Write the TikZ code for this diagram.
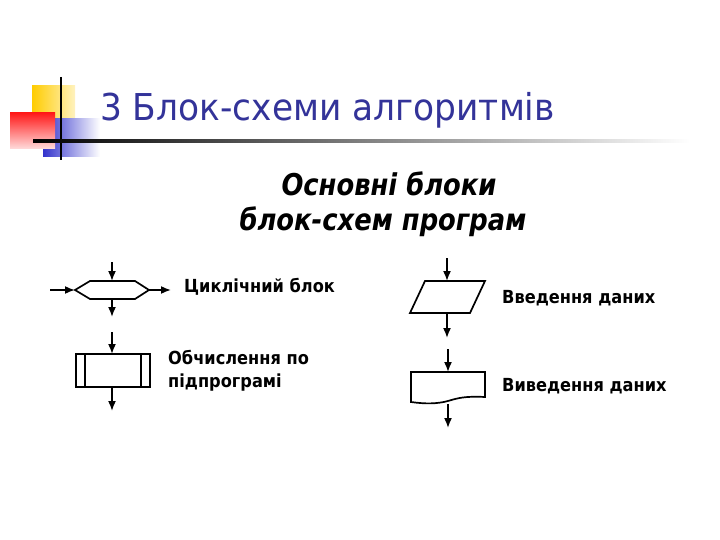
\documentclass[tikz,border=0pt]{standalone}
\usepackage{fontspec}
\setmainfont{DejaVu Sans}
\newfontfamily\titlefont[FakeStretch=0.93]{DejaVu Sans}
\newfontfamily\subfont[FakeStretch=0.86]{DejaVu Sans}
\newfontfamily\labelfont[FakeStretch=0.9]{DejaVu Sans}
\usepackage{tikz}
\usetikzlibrary{arrows.meta}
\definecolor{titleblue}{HTML}{333399}
\definecolor{sqyellow}{HTML}{FFCC00}
\definecolor{sqred}{HTML}{FF1A1A}
\definecolor{sqblue}{HTML}{3333CC}
\tikzset{
  blockline/.style={line width=1.7pt},
  flow/.style={line width=1.6pt,-{Latex[length=10pt,width=8pt]}},
  blocklabel/.style={anchor=base west,inner sep=0pt,font=\labelfont\bfseries\fontsize{18}{23}\selectfont}
}

\begin{document}
\begin{tikzpicture}[x=1pt,y=-1pt]
    \useasboundingbox (0,0) rectangle (720,540);
    % 飾り
    \fill[left color=sqyellow,right color=sqyellow!25] (32,86) rectangle (75,128);
    \fill[left color=sqblue,right color=white] (43,119) rectangle (100,157);
    \shade[shading=axis,shading angle=45,top color=sqred,bottom color=sqred!15] (10,113) rectangle (55,149);
    \draw[line width=1.6pt] (61,77)--(61,160);
    \shade[left color=black,right color=white] (33,139.5) rectangle (690,142.5);
    % 見出し
    \node (title) [anchor=base west,inner sep=0pt,text=titleblue,font=\titlefont\fontsize{37}{40}\selectfont] at (100,121) {3 Блок-схеми алгоритмів};
    \node (sub1) [anchor=base,inner sep=0pt,font=\subfont\bfseries\itshape\fontsize{30}{32}\selectfont] at (389,196) {Основні блоки};
    \node (sub2) [anchor=base,inner sep=0pt,font=\subfont\bfseries\itshape\fontsize{30}{32}\selectfont] at (383,230) {блок-схем програм};
    % 循環ブロック
    \draw[blockline] (75,290)--(90,281)--(135,281)--(149,290)--(135,299)--(90,299)--cycle;
    \coordinate (cyc_n) at (112,281);
    \coordinate (cyc_s) at (112,299);
    \coordinate (cyc_w) at (75,290);
    \coordinate (cyc_e) at (149,290);
    \coordinate (cyc_in) at (112,262);
    \coordinate (cyc_out) at (112,317);
    \coordinate (cyc_left) at (50,290);
    \coordinate (cyc_right) at (171,290);
    \draw[flow] (cyc_in)--(cyc_n);
    \draw[flow] (cyc_s)--(cyc_out);
    \draw[flow] (cyc_left)--(cyc_w);
    \draw[flow] (cyc_e)--(cyc_right);
    \node (cyclabel) [blocklabel] at (184,292) {Циклічний блок};
    % サブルーチン
    \draw[blockline] (76,354) rectangle (150,387);
    \draw[blockline] (85,354)--(85,387) (141,354)--(141,387);
    \coordinate (sub_n) at (112,354);
    \coordinate (sub_s) at (112,387);
    \coordinate (sub_in) at (112,332);
    \coordinate (sub_out) at (112,411);
    \draw[flow] (sub_in)--(sub_n);
    \draw[flow] (sub_s)--(sub_out);
    \node (sublabel) [blocklabel,align=left] at (168,387) {Обчислення по\\підпрограмі};
    % 入力
    \draw[blockline] (425,281)--(485,281)--(470,313)--(410,313)--cycle;
    \coordinate (inp_n) at (447,281);
    \coordinate (inp_s) at (447,313);
    \coordinate (inp_in) at (447,258);
    \coordinate (inp_out) at (447,338);
    \draw[flow] (inp_in)--(inp_n);
    \draw[flow] (inp_s)--(inp_out);
    \node (inplabel) [blocklabel] at (502,303) {Введення даних};
    % 出力
    \draw[blockline] (411,372)--(485,372)--(485,397) .. controls (465,396) and (458,398) .. (448,401) .. controls (437,404) and (425,404) .. (411,402)--cycle;
    \coordinate (out_n) at (448,372);
    \coordinate (out_s) at (448,404);
    \coordinate (out_in) at (448,349);
    \coordinate (out_out) at (448,428);
    \draw[flow] (out_in)--(out_n);
    \draw[flow] (out_s)--(out_out);
    \node (outlabel) [blocklabel] at (502,391) {Виведення даних};
\end{tikzpicture}
\end{document}
